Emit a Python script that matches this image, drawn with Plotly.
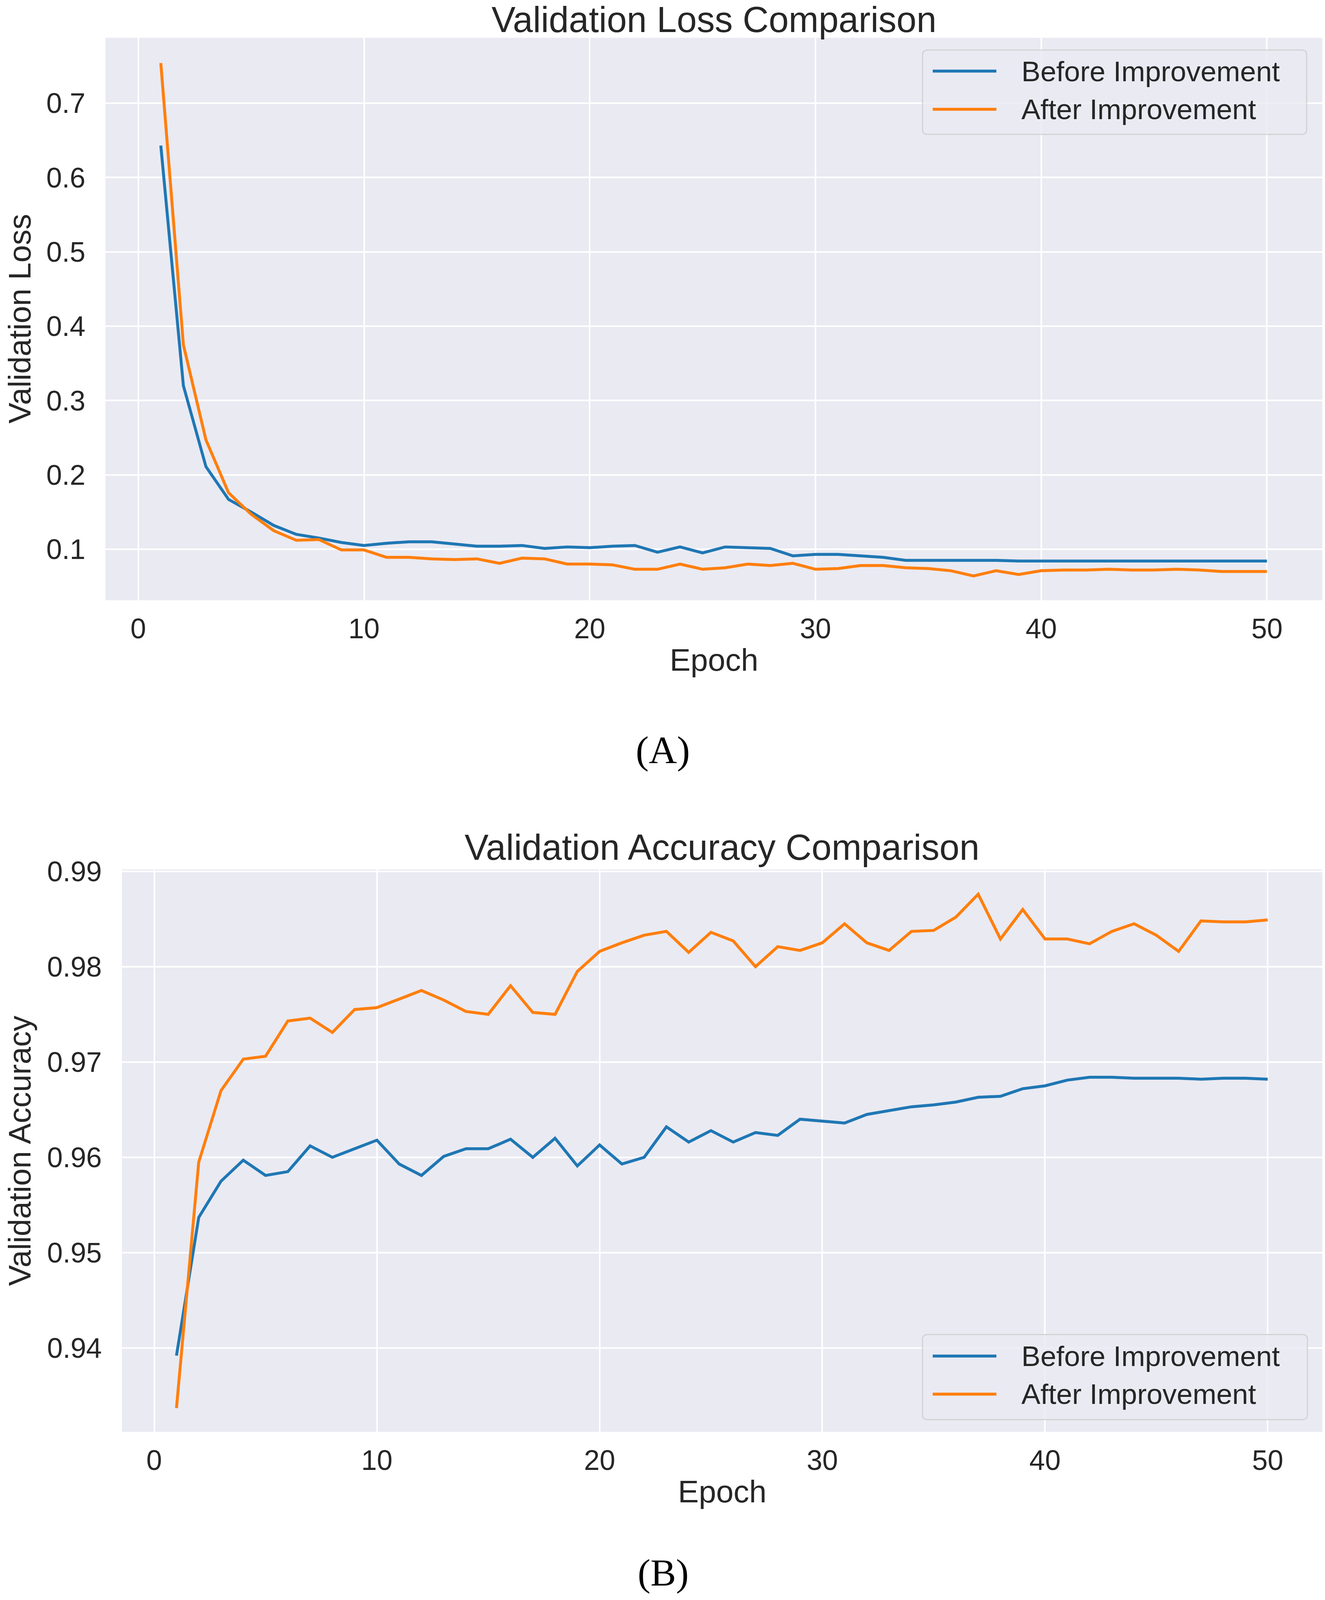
#!/usr/bin/env python3
# -*- coding:utf-8 -*-
'''
validation loss / accuracy comparison, before vs after improvement
'''

import plotly.graph_objects as go

# ---- data ----
epochs = list(range(1, 51))

loss_before = [0.643, 0.320, 0.211, 0.167, 0.150, 0.132, 0.120, 0.115, 0.109, 0.105,
               0.108, 0.110, 0.110, 0.107, 0.104, 0.104, 0.105, 0.101, 0.103, 0.102,
               0.104, 0.105, 0.096, 0.103, 0.095, 0.103, 0.102, 0.101, 0.091, 0.093,
               0.093, 0.091, 0.089, 0.085, 0.085, 0.085, 0.085, 0.085, 0.084, 0.084,
               0.084, 0.084, 0.084, 0.084, 0.084, 0.084, 0.084, 0.084, 0.084, 0.084]
loss_after = [0.754, 0.375, 0.247, 0.176, 0.147, 0.125, 0.112, 0.113, 0.099, 0.099,
              0.089, 0.089, 0.087, 0.086, 0.087, 0.081, 0.088, 0.087, 0.080, 0.080,
              0.079, 0.073, 0.073, 0.080, 0.073, 0.075, 0.080, 0.078, 0.081, 0.073,
              0.074, 0.078, 0.078, 0.075, 0.074, 0.071, 0.064, 0.071, 0.066, 0.071,
              0.072, 0.072, 0.073, 0.072, 0.072, 0.073, 0.072, 0.070, 0.070, 0.070]

acc_before = [0.9392, 0.9537, 0.9575, 0.9597, 0.9581, 0.9585, 0.9612, 0.9600, 0.9609, 0.9618,
              0.9593, 0.9581, 0.9601, 0.9609, 0.9609, 0.9619, 0.9600, 0.9620, 0.9591, 0.9613,
              0.9593, 0.9600, 0.9632, 0.9616, 0.9628, 0.9616, 0.9626, 0.9623, 0.9640, 0.9638,
              0.9636, 0.9645, 0.9649, 0.9653, 0.9655, 0.9658, 0.9663, 0.9664, 0.9672, 0.9675,
              0.9681, 0.9684, 0.9684, 0.9683, 0.9683, 0.9683, 0.9682, 0.9683, 0.9683, 0.9682]
acc_after = [0.9337, 0.9595, 0.9670, 0.9703, 0.9706, 0.9743, 0.9746, 0.9731, 0.9755, 0.9757,
             0.9766, 0.9775, 0.9765, 0.9753, 0.9750, 0.9780, 0.9752, 0.9750, 0.9795, 0.9816,
             0.9825, 0.9833, 0.9837, 0.9815, 0.9836, 0.9827, 0.9800, 0.9821, 0.9817, 0.9825,
             0.9845, 0.9825, 0.9817, 0.9837, 0.9838, 0.9852, 0.9876, 0.9829, 0.9860, 0.9829,
             0.9829, 0.9824, 0.9837, 0.9845, 0.9833, 0.9816, 0.9848, 0.9847, 0.9847, 0.9849]

series_names = ["Before Improvement", "After Improvement"]
x_ticks = [0, 10, 20, 30, 40, 50]
loss_ticks = [0.1, 0.2, 0.3, 0.4, 0.5, 0.6, 0.7]
acc_ticks = [0.94, 0.95, 0.96, 0.97, 0.98, 0.99]

# ---- styling (seaborn darkgrid look) ----
# positions below are measured on the 3391x4702 reference and used as fractions,
# so the figure fills whatever viewport the page gets
W, H = 3391, 4702
BLUE = "#1f77b4"
ORANGE = "#ff7f0e"
BG = "#EAEAF2"
INK = "#262626"
SANS = "Liberation Sans, Arial, sans-serif"
SERIF = "Liberation Serif, Times New Roman, serif"
LW = 7.5


def px(x):
    return x / W


def py(y):
    return 1 - y / H


fig = go.Figure()

# 图轨
fig.add_trace(go.Scatter(x=epochs, y=loss_before, name=series_names[0], mode="lines",
                         line=dict(color=BLUE, width=LW), xaxis="x", yaxis="y"))
fig.add_trace(go.Scatter(x=epochs, y=loss_after, name=series_names[1], mode="lines",
                         line=dict(color=ORANGE, width=LW), xaxis="x", yaxis="y"))
fig.add_trace(go.Scatter(x=epochs, y=acc_before, name=series_names[0], mode="lines",
                         line=dict(color=BLUE, width=LW), xaxis="x2", yaxis="y2"))
fig.add_trace(go.Scatter(x=epochs, y=acc_after, name=series_names[1], mode="lines",
                         line=dict(color=ORANGE, width=LW), xaxis="x2", yaxis="y2"))

axis_common = dict(showgrid=True, gridcolor="white", gridwidth=4, zeroline=False,
                   showline=False, ticks="outside", tickcolor="rgba(0,0,0,0)",
                   automargin=False,
                   tickfont=dict(family=SANS, size=72, color=INK))

fig.update_layout(
    autosize=True,
    margin=dict(l=0, r=0, t=0, b=0, pad=0, autoexpand=False),
    paper_bgcolor="white", plot_bgcolor=BG,
    showlegend=False,
    xaxis=dict(axis_common, domain=[px(270), px(3384)], range=[-1.45, 52.45],
               tickvals=x_ticks, ticklen=10, anchor="y"),
    yaxis=dict(axis_common, domain=[py(1764), py(111)], range=[0.0313, 0.788],
               tickvals=loss_ticks, ticklen=36, anchor="x"),
    xaxis2=dict(axis_common, domain=[px(312), px(3384)], range=[-1.45, 52.45],
                tickvals=x_ticks, ticklen=10, anchor="y2"),
    yaxis2=dict(axis_common, domain=[py(4208), py(2555)], range=[0.9312, 0.9902],
                tickvals=acc_ticks, ticklen=36, anchor="x2"),
)

# titles, axis labels, captions
texts = [
    ("Validation Loss Comparison", 1827, 57, 0, SANS, 92, INK),
    ("Epoch", 1827, 1939, 0, SANS, 80, INK),
    ("Validation Loss", 50, 937, -90, SANS, 80, INK),
    ("(A)", 1696, 2205, 0, SERIF, 100, "black"),
    ("Validation Accuracy Comparison", 1848, 2490, 0, SANS, 92, INK),
    ("Epoch", 1848, 4383, 0, SANS, 80, INK),
    ("Validation Accuracy", 50, 3382, -90, SANS, 80, INK),
    ("(B)", 1697, 4622, 0, SERIF, 98, "black"),
]
for txt, x, y, ang, fam, size, col in texts:
    fig.add_annotation(text=txt, x=px(x), y=py(y), xref="paper", yref="paper",
                       xanchor="center", yanchor="middle", textangle=ang,
                       showarrow=False, font=dict(family=fam, size=size, color=col))


# legends drawn like matplotlib's framed legend
def legend_box(x0, y0, x1, y1, row_ys):
    r = 14
    rx, ry = r / W, r / H
    a, b, c, d = px(x0), py(y1), px(x1), py(y0)
    path = (f"M{a + rx},{b} L{c - rx},{b} Q{c},{b} {c},{b + ry} "
            f"L{c},{d - ry} Q{c},{d} {c - rx},{d} L{a + rx},{d} "
            f"Q{a},{d} {a},{d - ry} L{a},{b + ry} Q{a},{b} {a + rx},{b} Z")
    fig.add_shape(type="path", path=path, xref="paper", yref="paper",
                  fillcolor="rgba(234,234,242,0.8)",
                  line=dict(color="rgba(204,204,204,0.8)", width=3), layer="above")
    for name, col, yy in zip(series_names, [BLUE, ORANGE], row_ys):
        fig.add_shape(type="line", x0=px(x0 + 26), x1=px(x0 + 189), y0=py(yy), y1=py(yy),
                      xref="paper", yref="paper", line=dict(color=col, width=LW),
                      layer="above")
        fig.add_annotation(text=name, x=px(x0 + 251), y=py(yy), xref="paper", yref="paper",
                           xanchor="left", yanchor="middle", showarrow=False,
                           font=dict(family=SANS, size=73, color=INK))


legend_box(2361, 147, 3344, 395, [209, 321])
legend_box(2361, 3922, 3346, 4172, [3985, 4097])

# fill the browser viewport exactly (no body margin, no scrollbars)
fit = ("document.body.style.margin='0';document.body.style.overflow='hidden';"
       "Plotly.Plots.resize(document.getElementById('{plot_id}'));")
fig.write_html("out.html", default_width="100vw", default_height="100vh",
               config={"responsive": True, "displayModeBar": False}, post_script=fit)
